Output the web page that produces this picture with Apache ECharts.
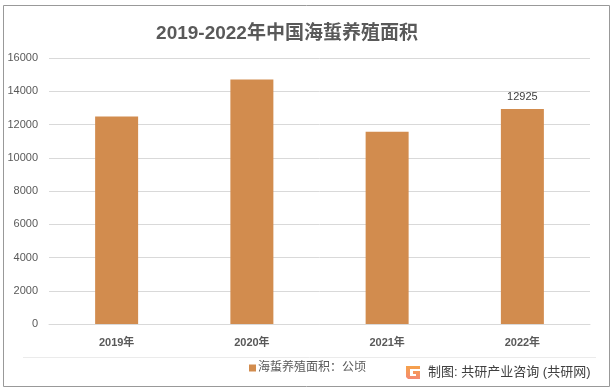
<!DOCTYPE html>
<html>
<head>
<meta charset="utf-8">
<style>
html, body { margin: 0; padding: 0; background: #fff; }
#chart { width: 614px; height: 391px; }
</style>
<script src="https://cdn.jsdelivr.net/npm/echarts@6/dist/echarts.min.js"></script>
</head>
<body>
<div id="chart"></div>
<script>
const categories = ['2019年', '2020年', '2021年', '2022年'];
const areaValues = [12480, 14700, 11570, 12925];
const labelledYear = '2022年';
const seriesName = '海蜇养殖面积：公顷';
const titleText = '2019-2022年中国海蜇养殖面积';
const sourceText = '制图: 共研产业咨询 (共研网)';

const font = '"Liberation Sans", "Noto Sans CJK SC", sans-serif';
const barColor = '#D28C4E';

const myChart = echarts.init(document.getElementById('chart'), null, { renderer: 'canvas' });

const option = {
    animation: false,
    backgroundColor: '#fff',
    textStyle: { fontFamily: font },
    title: {
        text: titleText,
        left: 282,
        top: 19,
        textAlign: 'center',
        textStyle: { fontSize: 19, fontWeight: 'bold', color: '#595959', fontFamily: font }
    },
    legend: {
        data: [seriesName],
        left: 249,
        top: 362,
        padding: 0,
        icon: 'rect',
        itemWidth: 7,
        itemHeight: 7,
        itemGap: 2,
        textStyle: { fontSize: 12, color: '#595959', fontFamily: font, padding: [0, 0, 0, -3] }
    },
    grid: { left: 49, right: 24, top: 58, height: 266 },
    xAxis: {
        type: 'category',
        data: categories,
        axisLine: { lineStyle: { color: '#D9D9D9', width: 1 } },
        axisTick: { show: false },
        axisLabel: { fontSize: 11, color: '#595959', margin: 13, fontWeight: 'bold' }
    },
    yAxis: {
        type: 'value',
        min: 0,
        max: 16000,
        interval: 2000,
        axisLine: { show: false },
        axisTick: { show: false },
        axisLabel: { fontSize: 11, color: '#595959', margin: 11, formatter: v => String(v) },
        splitLine: { lineStyle: { color: '#D9D9D9', width: 1 } }
    },
    series: [{
        name: seriesName,
        type: 'bar',
        barWidth: 43,
        itemStyle: { color: barColor },
        data: areaValues,
        label: {
            show: true,
            position: 'top',
            distance: 7,
            fontSize: 11,
            color: '#404040',
            formatter: p => (p.name === labelledYear ? p.value : '')
        }
    }],
    graphic: [
        {
            type: 'rect',
            silent: true,
            shape: { x: 3.5, y: 5.5, width: 606, height: 381 },
            style: { fill: 'none', stroke: '#999999', lineWidth: 1 }
        },
        {
            type: 'line',
            silent: true,
            shape: { x1: 23, y1: 357.5, x2: 596, y2: 357.5 },
            style: { stroke: '#EBEBEB', lineWidth: 1 }
        },
        // logo, a blocky G
        {
            type: 'polygon',
            silent: true,
            shape: {
                points: [[406, 366], [420, 366], [420, 369], [410, 369], [410, 376], [416, 376], [416, 374], [413, 374], [413, 371], [420, 371], [420, 379], [408, 379], [406, 377]]
            },
            style: {
                fill: new echarts.graphic.LinearGradient(0, 0, 0, 1, [
                    { offset: 0, color: '#F5A24A' },
                    { offset: 1, color: '#F58A72' }
                ])
            }
        },
        {
            type: 'text',
            silent: true,
            x: 428,
            y: 372,
            style: {
                text: sourceText,
                fill: '#404040',
                font: '13px ' + font,
                textAlign: 'left',
                textVerticalAlign: 'middle'
            }
        }
    ]
};

myChart.setOption(option);
</script>
</body>
</html>
